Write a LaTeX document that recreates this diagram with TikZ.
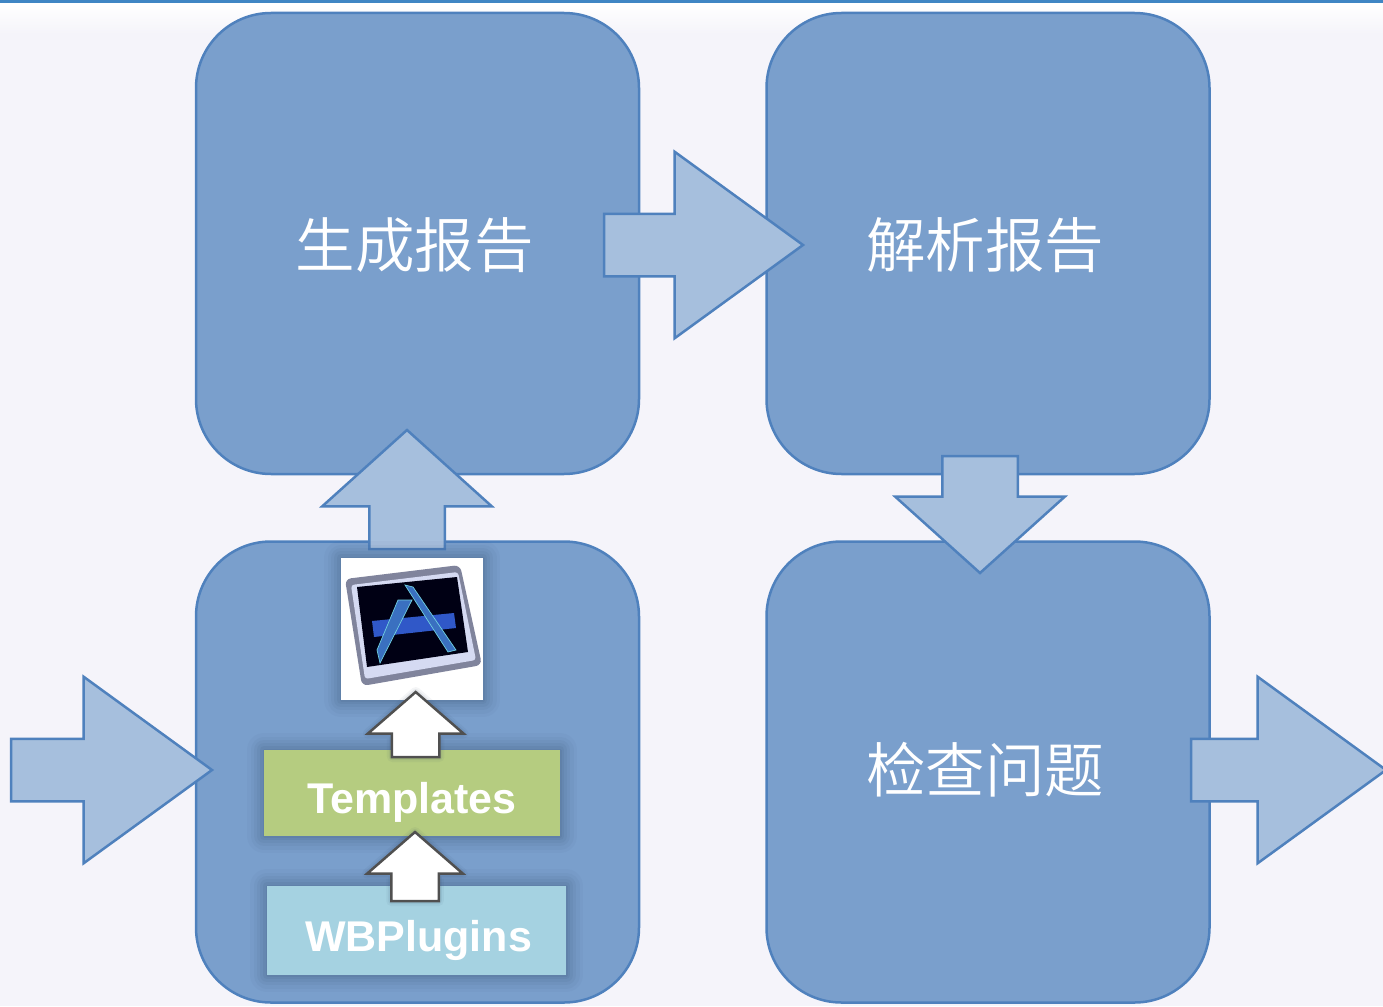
\documentclass[tikz,border=0pt]{standalone}
\usepackage{fontspec}
\setmainfont{Liberation Sans}
\newfontfamily\cjk{Noto Sans CJK SC}[UprightFont={* DemiLight}]
\usetikzlibrary{shapes.arrows}
\definecolor{pagebg}{HTML}{F5F4FA}
\definecolor{topbar}{HTML}{3F86C4}
\definecolor{boxfill}{HTML}{7A9FCC}
\definecolor{boxline}{HTML}{4F81BD}
\definecolor{arrowfill}{HTML}{A6BFDD}
\definecolor{greenfill}{HTML}{B5CC80}
\definecolor{bluefill}{HTML}{A5D2E1}
\definecolor{whiteline}{HTML}{505050}
\definecolor{glowcolor}{HTML}{2A3F5F}
\definecolor{iconframe}{HTML}{80849C}
\definecolor{iconinner}{HTML}{D5DAF2}
\definecolor{iconbar}{HTML}{3058C8}
\definecolor{iconpen}{HTML}{3A70C0}
\definecolor{iconedge}{HTML}{70D0E0}
\tikzset{
    softglow/.style={
        preaction={draw=glowcolor, opacity=.03, line width=34pt, line join=round},
        preaction={draw=glowcolor, opacity=.04, line width=27pt, line join=round},
        preaction={draw=glowcolor, opacity=.05, line width=20pt, line join=round},
        preaction={draw=glowcolor, opacity=.06, line width=14pt, line join=round},
        preaction={draw=glowcolor, opacity=.07, line width=8pt, line join=round},
        preaction={draw=glowcolor, opacity=.08, line width=3pt, line join=round}},
    smallglow/.style={
        preaction={draw=glowcolor, opacity=.05, line width=10pt, line join=round},
        preaction={draw=glowcolor, opacity=.08, line width=6pt, line join=round}},
    bigbox/.style={draw=boxline, fill=boxfill, line width=2.5pt, rounded corners=75pt,
        minimum width=443pt, minimum height=461pt, inner sep=0pt, outer sep=0pt},
    boxtext/.style={text=white, font=\cjk\fontsize{59.5}{60}\selectfont, inner sep=0pt},
    bigarrow/.style={single arrow, draw=boxline, fill=arrowfill, line width=2.5pt, inner sep=0pt,
        inner ysep=30pt, minimum width=184pt, single arrow head extend=62pt,
        single arrow tip angle=72, outer sep=0pt, anchor=tip},
    uparrow/.style={single arrow, draw=boxline, fill=arrowfill, line width=2.5pt, inner sep=0pt,
        inner ysep=36.5pt, minimum width=167pt, single arrow head extend=47pt,
        single arrow tip angle=96, outer sep=0pt, anchor=tip},
    whitearrow/.style={single arrow, draw=whiteline, fill=white, line width=2.5pt, inner sep=0pt,
        inner ysep=22.5pt, minimum width=93pt, single arrow head extend=24pt,
        single arrow tip angle=98, outer sep=0pt, anchor=tip, smallglow, rotate=90},
    layerbox/.style={text=white, font=\bfseries\fontsize{43}{43}\selectfont, inner sep=0pt,
        outer sep=0pt, text height=41pt, text depth=0pt, softglow}
}
\begin{document}
\begin{tikzpicture}[x=1pt, y=-1pt]
    \useasboundingbox (0,0) rectangle (1383,1006);
    \fill[pagebg] (0,0) rectangle (1383,1006);
    \shade[top color=white, bottom color=pagebg] (0,4) rectangle (1383,34);
    \fill[topbar] (0,0) rectangle (1383,3.5);

    \node[bigbox] (generate) at (417.5,243.5) {};
    \node[bigbox] (parse) at (988,243.5) {};
    \node[bigbox] (build) at (417.5,772) {};
    \node[bigbox] (check) at (988,772) {};

    \node[boxtext] (generatetext) at (414.5,245) {生成报告};
    \node[boxtext] (parsetext) at (985,245) {解析报告};
    \node[boxtext] (checktext) at (985,770) {检查问题};

    \node[bigarrow, minimum height=199pt] (toparse) at (803,245) {};
    \node[bigarrow, minimum height=201pt] (tobuild) at (212,770) {};
    \node[bigarrow, minimum height=195pt] (outarrow) at (1386,770) {};
    \node[uparrow, minimum height=119pt, rotate=90] (togenerate) at (407,430) {};
    \node[uparrow, minimum height=117pt, rotate=-90] (tocheck) at (980,573) {};

    \node[fill=white, minimum width=142pt, minimum height=142pt, inner sep=0pt, outer sep=0pt, softglow] (xcode) at (412,629) {};
    \fill[iconframe, rounded corners=6pt]
        (345,579) -- (460,565) -- (482,665) -- (362,686) -- cycle;
    \fill[iconinner, rounded corners=3pt]
        (351,585) -- (458,572) -- (476,660) -- (365,679) -- cycle;
    \fill[black!92!blue] (357,587) -- (457,577) -- (468,652) -- (367,667) -- cycle;
    \fill[iconbar] (372,621) -- (454,613) -- (456,628) -- (374,637) -- cycle;
    \fill[iconpen, draw=iconedge, line width=.7pt]
        (398,600) -- (412,600) -- (380,663) -- (377,650) -- cycle;
    \fill[iconpen, draw=iconedge, line width=.7pt]
        (405,585) -- (413,587) -- (456,650) -- (448,652) -- cycle;

    \node[layerbox, fill=greenfill, minimum width=296pt, minimum height=86pt] (templates) at (412,793) {Templates};
    \node[layerbox, fill=bluefill, minimum width=299pt, minimum height=89pt] (wbplugins) at (416.5,930.5) {\hspace*{4pt}WBPlugins};

    \node[whitearrow, minimum height=65pt] (toxcode) at (415.7,692) {};
    \node[whitearrow, minimum height=69pt] (totemplates) at (415,832) {};
\end{tikzpicture}
\end{document}
